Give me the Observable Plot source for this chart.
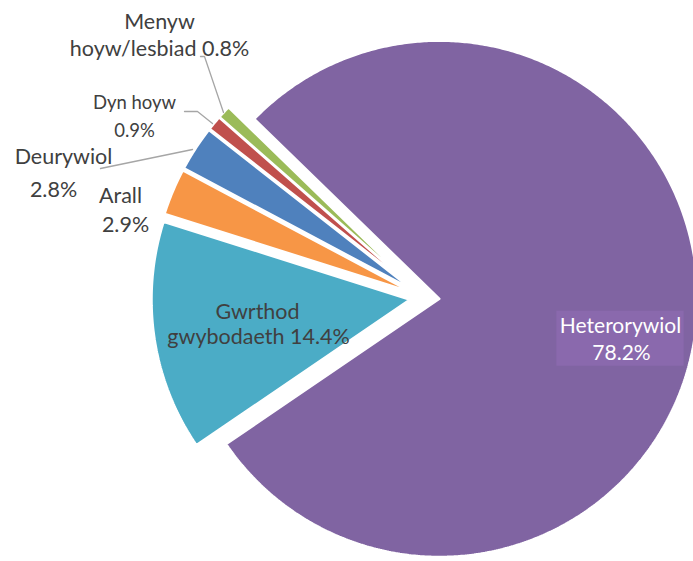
<!DOCTYPE html>
<html><head><meta charset="utf-8">
<script src="https://cdn.jsdelivr.net/npm/d3@7"></script>
<script src="https://cdn.jsdelivr.net/npm/@observablehq/plot@0.6"></script>
<style>html,body{margin:0;padding:0;background:#fff;} svg{display:block;}</style>
</head><body><div id="chart"></div>
<script>
// ---- data ----
const categories = ["Heterorywiol", "Gwrthod gwybodaeth", "Arall", "Deurywiol", "Dyn hoyw", "Menyw hoyw/lesbiad"];
const values = [78.2, 14.4, 2.9, 2.8, 0.9, 0.8];
const colors = ["#8064A2", "#4BACC6", "#F79646", "#4F81BD", "#C0504D", "#9BBB59"];
const labelTexts = [
  ["Heterorywiol", "78.2%"],
  ["Gwrthod", "gwybodaeth 14.4%"],
  ["Arall", "2.9%"],
  ["Deurywiol", "2.8%"],
  ["Dyn hoyw", "0.9%"],
  ["Menyw", "hoyw/lesbiad 0.8%"]
];

// ---- layout (pixels) ----
const W = 693, H = 561;
const CX = 424, CY = 297, R = 258, EXPLODE = 15, START = 314.2;
const labelX = [[620, 621], [257, 258], [120, 125], [63, 53], [134, 134], [159, 159]];
const labelY = [[326, 353], [312, 337], [196, 225], [157, 190], [103, 131], [22, 49]];
const labelSize = [21, 21.5, 21.5, 21.5, 18.5, 21.5];
const labelColor = ["#ffffff", "#404040", "#404040", "#404040", "#404040", "#404040"];
const leaders = [
  {cat: 5, pts: [[200, 56], [204, 56], [223, 112]]},
  {cat: 4, pts: [[184, 111], [197, 111], [212, 123]]},
  {cat: 3, pts: [[100, 168], [192, 149]]}
];

// convert pixel layout to data units (radius = 1, origin at pie centre)
const toX = px => (px - CX) / R;
const toY = py => (CY - py) / R;

// ---- pie geometry from values ----
const total = d3.sum(values);
const rad = a => a * Math.PI / 180;
const slices = [];
let a0 = START;
values.forEach((v, i) => {
  const span = v / total * 360;
  const a1 = a0 + span;
  const mid = (a0 + a1) / 2;
  const ox = EXPLODE / R * Math.sin(rad(mid));
  const oy = EXPLODE / R * Math.cos(rad(mid));
  const n = Math.max(2, Math.ceil(span / 0.5));
  slices.push({key: categories[i], color: colors[i], x: ox, y: oy});
  for (let k = 0; k <= n; k++) {
    const a = a0 + span * k / n;
    slices.push({key: categories[i], color: colors[i], x: ox + Math.sin(rad(a)), y: oy + Math.cos(rad(a))});
  }
  slices.push({key: categories[i], color: colors[i], x: ox, y: oy});
  a0 = a1;
});

const textRows = [];
labelTexts.forEach((lines, i) => lines.forEach((t, j) => textRows.push({
  key: categories[i], text: t, x: toX(labelX[i][j]), y: toY(labelY[i][j])
})));

const leaderRows = [];
leaders.forEach(l => l.pts.forEach(p => leaderRows.push({key: categories[l.cat], x: toX(p[0]), y: toY(p[1])})));

const plot = Plot.plot({
  width: W, height: H,
  margin: 0,
  x: {domain: [toX(0), toX(W)], range: [0, W], axis: null},
  y: {domain: [toY(H), toY(0)], range: [H, 0], axis: null},
  style: {background: "#fff", fontFamily: "Lato, 'Open Sans', sans-serif"},
  marks: [
    Plot.line(slices, {x: "x", y: "y", z: "key", fill: "color", stroke: "#fff", strokeWidth: 2.2, strokeLinejoin: "miter", curve: "linear"}),
    Plot.line(leaderRows, {x: "x", y: "y", z: "key", stroke: "#a6a6a6", strokeWidth: 1.3}),
    ...labelSize.map((s, i) => Plot.text(textRows.filter(d => d.key === categories[i]), {
      x: "x", y: "y", text: "text", fontSize: s, fill: labelColor[i], textAnchor: "middle",
      className: i === 0 ? "hetero-label" : undefined
    }))
  ]
});
document.getElementById("chart").appendChild(plot);

// light box behind the Heterorywiol label
const g = plot.querySelector("g.hetero-label") || [...plot.querySelectorAll("g")].find(el => [...el.querySelectorAll("text")].some(t => t.textContent === "Heterorywiol") && el.querySelectorAll("text").length === 2);
if (g) {
  const bb = g.getBBox();
  const rect = document.createElementNS("http://www.w3.org/2000/svg", "rect");
  rect.setAttribute("x", bb.x - 3);
  rect.setAttribute("y", bb.y - 1);
  rect.setAttribute("width", bb.width + 6);
  rect.setAttribute("height", bb.height + 3);
  rect.setAttribute("fill", "#8A69AD");
  g.parentNode.insertBefore(rect, g);
}
</script>
</body></html>
